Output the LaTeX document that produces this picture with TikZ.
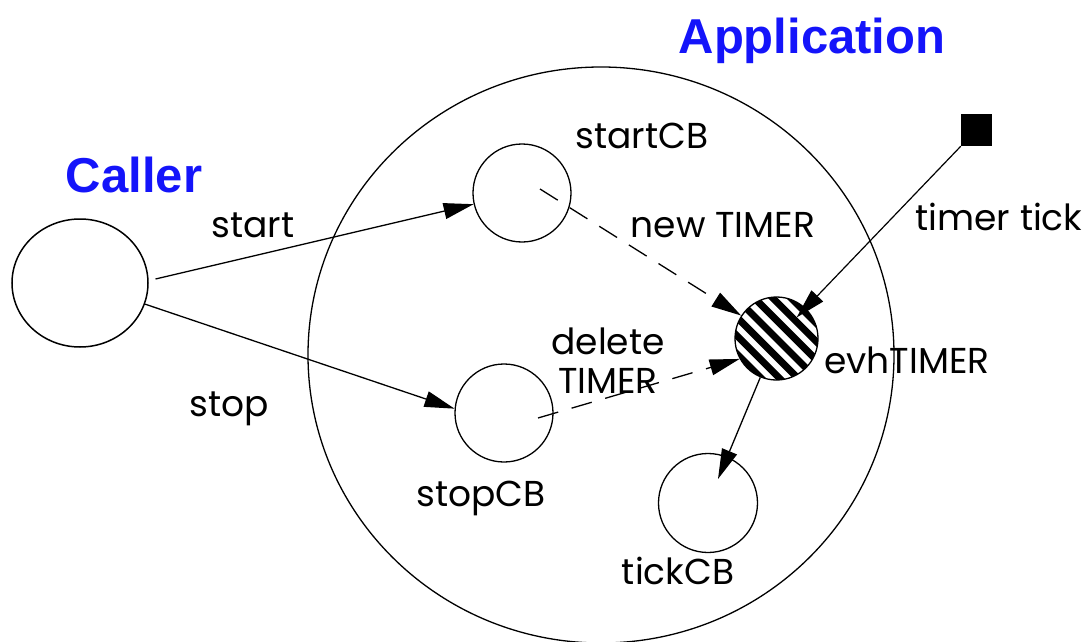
\documentclass[tikz,border=0pt]{standalone}
\usepackage{fontspec}
\setmainfont{Poppins}
\newfontfamily\headfont{Liberation Sans}
\usetikzlibrary{arrows.meta,shapes.geometric,calc}
\definecolor{titleblue}{RGB}{20,20,250}
\begin{document}
\begin{tikzpicture}[x=1pt,y=-1pt,
  bubble/.style={circle, draw, line width=1.3pt, minimum size=98pt, inner sep=0pt},
  lbl/.style={inner sep=0pt, font=\fontsize{36}{39}\selectfont, anchor=base},
  title/.style={inner sep=0pt, anchor=base, font=\headfont\bfseries\fontsize{49}{55}\selectfont, text=titleblue},
  arr/.style={line width=1.3pt, -{Triangle[length=30pt,width=16pt]}},
  darr/.style={arr, dash pattern=on 21pt off 14pt}]
\useasboundingbox (0,0) rectangle (1084,642);

% containers and bubbles
\node[ellipse, draw, line width=1.3pt, minimum width=586pt, minimum height=576pt, inner sep=0pt] (app) at (601,355) {};
\node[ellipse, draw, line width=1.5pt, minimum width=136pt, minimum height=128pt, inner sep=0pt] (caller) at (80,283) {};
\node[bubble] (startCB) at (522,193) {};
\node[bubble] (stopCB) at (504,413) {};
\node[bubble, minimum size=99pt] (tickCB) at (708,503) {};
\node[circle, draw, line width=1.3pt, minimum size=83pt, inner sep=0pt, path picture={
  \foreach \d in {-65,-52,...,65} {
    \draw[line width=7pt] ($(path picture bounding box.center)+(\d*0.7071,-\d*0.7071)+(-60,-60)$) -- ++(120,120);
  }
}] (evh) at (776.5,338.5) {};
\node[rectangle, fill=black, minimum width=31pt, minimum height=32pt, inner sep=0pt] (sq) at (976.5,130) {};

% labels
\node[title] (tapp) at (812,53) {Application};
\node[title] (tcaller) at (134,192) {Caller};
\node[lbl] (tstartCB) at (642,148) {startCB};
\node[lbl] (tstart) at (253,237) {start};
\node[lbl] (tstop) at (229,416) {stop};
\node[lbl] (tnew) at (723,237) {new TIMER};
\node[lbl] (ttick) at (999,230) {timer tick};
\node[lbl, anchor=center, align=center] (tdel) at (608,361) {delete\\TIMER};
\node[lbl, anchor=base west] (tevh) at (824,373) {evhTIMER};
\node[lbl] (tstopCB) at (481,506) {stopCB};
\node[lbl] (ttickCB) at (678,584) {tickCB};

% connectors
\draw[arr, shorten <=7pt] (caller.2) -- (startCB.193);
\draw[arr] (caller.-18) -- (stopCB.175);
\draw[darr] ($(startCB.center)+(18,-4)$) -- (evh.147);
\draw[darr] ($(stopCB.center)+(34,5)$) -- (evh.209);
\draw[arr, line width=1.2pt, shorten >=29pt] (sq.south west) -- (evh.center);
\draw[arr, shorten >=26pt] (evh) -- (tickCB.center);
\end{tikzpicture}
\end{document}
